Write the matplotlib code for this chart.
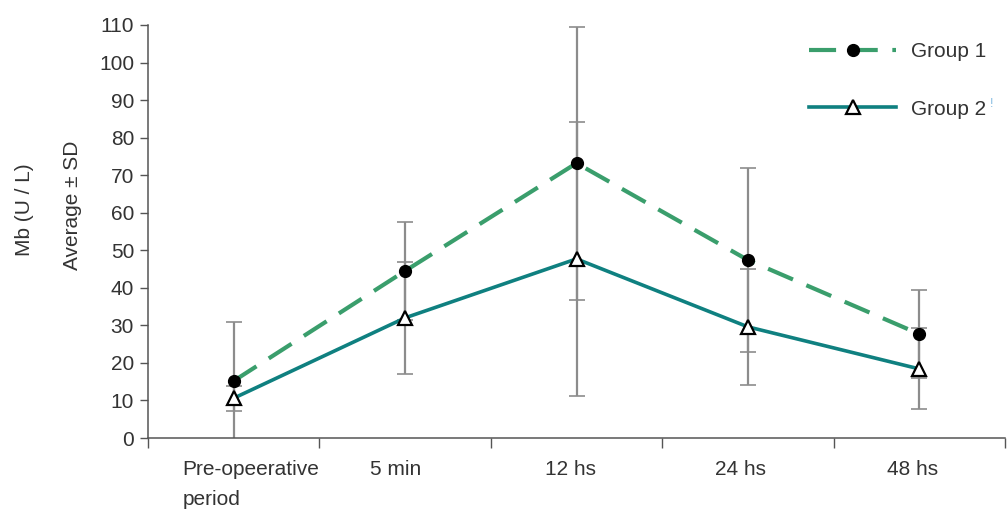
import matplotlib
matplotlib.use("Agg")
import matplotlib.pyplot as plt
import matplotlib.transforms as mtrans
import numpy as np

plt.rcParams['font.family'] = ['Liberation Sans Narrow', 'Liberation Sans', 'DejaVu Sans']

# Data
categories = ["Pre-opeerative\nperiod", "5 min", "12 hs", "24 hs", "48 hs"]
group1_mean = [15.2, 44.5, 73.2, 47.4, 27.7]
group1_sd = [15.8, 13.0, 36.4, 24.5, 11.8]
group2_mean = [10.6, 32.0, 47.7, 29.6, 18.4]
group2_sd = [3.3, 15.0, 36.5, 15.5, 10.8]

x = np.arange(1, len(categories) + 1)
txt = "#333333"
axc = "#555555"

fig = plt.figure(figsize=(10.08, 5.12), dpi=100)
ax = fig.add_axes([148/1008, 1 - 438/512, 857/1008, 413/512])

# error bars (grey, below markers)
for m, s in [(group1_mean, group1_sd), (group2_mean, group2_sd)]:
    ax.errorbar(x, m, yerr=s, fmt="none", ecolor="#8c8c8c", elinewidth=1.6,
                capsize=5.5, capthick=1.2, zorder=2)

ax.plot(x, group1_mean, color="#3a9e6c", lw=3.0, dashes=(6.5, 3.5),
        marker="o", ms=8.5, mfc="black", mec="black", label="Group 1", zorder=3)
ax.plot(x, group2_mean, color="#0f8080", lw=2.6,
        marker="^", ms=9.5, mfc="white", mec="black", mew=1.6, label="Group 2", zorder=3)

ax.set_xlim(0.5, 5.45)
ax.set_ylim(0, 110)
ax.set_yticks(np.arange(0, 111, 10))
ax.set_xticks(np.arange(0.5, 5.6, 1))
ax.set_xticklabels([])
ax.set_xticks(x, minor=True)
ax.set_xticklabels(categories, minor=True, fontsize=15, color=txt,
                   linespacing=1.75, va="top")
ax.tick_params(axis="x", which="minor", length=0, pad=16)
ax.tick_params(axis="x", which="major", length=7, width=1, color=axc, direction="out")
ax.tick_params(axis="y", length=6, width=1, color=axc, labelsize=15, labelcolor=txt, pad=4)
shifts = [17, -9, -6, -7, -7]
for lab, dx in zip(ax.get_xticklabels(minor=True), shifts):
    lab.set_multialignment("left")
    lab.set_transform(lab.get_transform() + mtrans.ScaledTranslation(dx/100, 0, fig.dpi_scale_trans))

for side in ["top", "right"]:
    ax.spines[side].set_visible(False)
for side in ["left", "bottom"]:
    ax.spines[side].set_color(axc)
    ax.spines[side].set_linewidth(1.1)

fig.text(25/1008, 1 - 210/512, "Mb (U / L)", rotation=90, ha="center", va="center",
         fontsize=15, color=txt)
fig.text(73/1008, 1 - 205/512, "Average \u00b1 SD", rotation=90, ha="center", va="center",
         fontsize=15, color=txt)

leg = ax.legend(loc="upper right", bbox_to_anchor=(1.0, 1.004), frameon=False,
                fontsize=15, handlelength=4.2, labelspacing=1.85, handletextpad=0.7,
                labelcolor=txt)
fig.text(992/1008, 1 - 104/512, "!", fontsize=9, color="#7fb8e0", ha="center", va="center")

fig.savefig("out.png", dpi=100)
